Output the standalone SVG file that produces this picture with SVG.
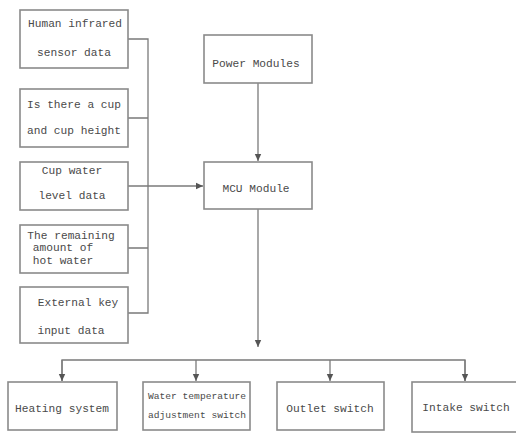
<svg xmlns="http://www.w3.org/2000/svg" width="516" height="434" viewBox="0 0 516 434">
<defs>
<style>
.box{fill:#fff;stroke:#8a8a8a;stroke-width:1.6}
.t{font-family:"Liberation Mono","DejaVu Sans Mono",monospace;font-size:11.2px;fill:#4a4a4a;text-anchor:middle}
.s{font-size:9.6px}
.c{fill:none;stroke:#7a7a7a;stroke-width:1.3}
</style>
<marker id="ah" markerWidth="8" markerHeight="8" refX="7" refY="4" orient="auto" markerUnits="userSpaceOnUse">
<path d="M0,0.8 L7,4 L0,7.2 Z" fill="#555"/>
</marker>
</defs>
<rect width="516" height="434" fill="#fff"/>
<g id="connectors">
<path class="c" d="M128,39 H148 V313 H128 M128,118 H148 M128,248 H148"/>
<path class="c" d="M128,186 H203" marker-end="url(#ah)"/>
<path class="c" d="M258,83 V161" marker-end="url(#ah)"/>
<path class="c" d="M258,209 V347" marker-end="url(#ah)"/>
<path class="c" d="M62,381 V360 H465 V381"/>
<path class="c" d="M62,360 V381" marker-end="url(#ah)"/>
<path class="c" d="M196,360 V381" marker-end="url(#ah)"/>
<path class="c" d="M330,360 V381" marker-end="url(#ah)"/>
<path class="c" d="M465,360 V381" marker-end="url(#ah)"/>
</g>
<g id="human"><rect class="box" x="20" y="10" width="108" height="58"/>
<text class="t" x="75" y="27">Human infrared</text><text class="t" x="74" y="56">sensor data</text></g>
<g id="cup"><rect class="box" x="20" y="89" width="108" height="58"/>
<text class="t" x="74" y="108">Is there a cup</text><text class="t" x="74" y="134">and cup height</text></g>
<g id="level"><rect class="box" x="20" y="162" width="108" height="48"/>
<text class="t" x="72" y="174">Cup water</text><text class="t" x="72" y="199">level data</text></g>
<g id="remaining"><rect class="box" x="20" y="225" width="108" height="48"/>
<text class="t" x="71" y="239">The remaining</text><text class="t" x="63" y="251">amount of</text><text class="t" x="63" y="264">hot water</text></g>
<g id="key"><rect class="box" x="20" y="287" width="108" height="56"/>
<text class="t" x="78" y="306">External key</text><text class="t" x="71" y="334">input data</text></g>
<g id="power"><rect class="box" x="204" y="35" width="108" height="48"/>
<text class="t" x="256" y="67">Power Modules</text></g>
<g id="mcu"><rect class="box" x="204" y="162" width="108" height="47"/>
<text class="t" x="256" y="192">MCU Module</text></g>
<g id="heating"><rect class="box" x="8" y="382" width="109" height="48"/>
<text class="t" x="62" y="412">Heating system</text></g>
<g id="watertemp"><rect class="box" x="143" y="382" width="107" height="48"/>
<text class="t s" x="197" y="399">Water temperature</text><text class="t s" x="197" y="418">adjustment switch</text></g>
<g id="outlet"><rect class="box" x="277" y="382" width="107" height="48"/>
<text class="t" x="330" y="412">Outlet switch</text></g>
<g id="intake"><rect class="box" x="412" y="382" width="110" height="50"/>
<text class="t" x="466" y="411">Intake switch</text></g>
</svg>
